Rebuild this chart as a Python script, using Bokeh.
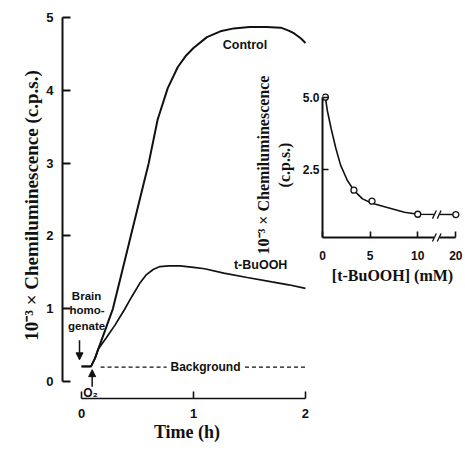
from bokeh.plotting import figure
from bokeh.models import Range1d, FixedTicker, Label, Arrow, NormalHead
from bokeh.layouts import row
from bokeh.embed import file_html
from bokeh.resources import INLINE

# ---------------- data: main panel (time course) ----------------
control_t = [0, 0.085, 0.12, 0.15, 0.20, 0.28, 0.36, 0.44, 0.52, 0.60, 0.68, 0.77,
             0.86, 0.93, 1.0, 1.12, 1.24, 1.36, 1.5, 1.65, 1.78, 1.85, 1.9, 1.96, 2.0]
control_y = [0.21, 0.21, 0.32, 0.45, 0.66, 1.0, 1.5, 2.0, 2.5, 3.0, 3.6, 4.03,
             4.32, 4.47, 4.58, 4.73, 4.81, 4.85, 4.87, 4.87, 4.86, 4.82, 4.78, 4.71, 4.65]
tbu_t = [0, 0.085, 0.12, 0.15, 0.22, 0.30, 0.38, 0.45, 0.52, 0.58, 0.64, 0.70,
         0.78, 0.88, 1.0, 1.1, 1.27, 1.48, 1.7, 1.85, 2.0]
tbu_y = [0.21, 0.21, 0.32, 0.45, 0.60, 0.78, 0.98, 1.17, 1.35, 1.47, 1.54, 1.58,
         1.59, 1.59, 1.57, 1.55, 1.49, 1.43, 1.37, 1.33, 1.28]
background_level = 0.20
background_span = (0.17, 2.0)
main_x_ticks = [0, 1, 2]
main_y_ticks = [0, 1, 2, 3, 4, 5]

# ---------------- data: inset (dose response) ----------------
inset_conc = [0.3, 3.3, 5.2, 10, 20]
inset_chem = [5.0, 1.8, 1.42, 0.97, 0.96]
fit_conc = [0.3, 0.5, 0.9, 1.4, 1.9, 2.6, 3.3, 4.2, 5.2, 6.8, 8.6, 10.0, 20.0]
fit_chem = [5.0, 4.55, 3.93, 3.24, 2.66, 2.14, 1.79, 1.5, 1.35, 1.2, 1.04, 0.97, 0.96]
inset_x_ticks = [0, 5, 10, 20]
inset_y_ticks = [2.5, 5.0]
BREAK_FROM = 10      # axis is broken between 10 and 20 mM
BREAK_SCALE = 0.4    # compression of the axis after the break
BREAK_AT = 12        # where the // marks are drawn (axis position)


def pos(c):
    return c if c <= BREAK_FROM else BREAK_FROM + (c - BREAK_FROM) * BREAK_SCALE


SANS = "Liberation Sans"
SERIF = "Liberation Serif"
INK = "#111111"

# ---------------- main figure ----------------
p = figure(width=465, height=472,
           x_range=Range1d(-0.17, 2.054), y_range=Range1d(-0.231, 5.068),
           output_backend="svg", toolbar_location=None,
           min_border_left=62, min_border_right=154, min_border_top=0, min_border_bottom=48,
           margin=(-20, 0, -2, 0))
p.title = None
p.grid.visible = False
p.outline_line_color = None
p.background_fill_color = "white"
p.border_fill_color = "white"

xa = p.xaxis[0]
xa.bounds = (0, 2)
xa.ticker = FixedTicker(ticks=main_x_ticks)
xa.major_tick_in = 7
xa.major_tick_out = 0
xa.minor_tick_line_color = None
xa.axis_line_width = 1.6
xa.major_tick_line_width = 1.6
xa.axis_line_color = INK
xa.major_tick_line_color = INK
xa.major_label_text_font = SANS
xa.major_label_text_font_style = "bold"
xa.major_label_text_font_size = "13px"
xa.major_label_text_color = INK
xa.major_label_standoff = 10
xa.axis_label = "Time (h)"
xa.axis_label_text_font = SERIF
xa.axis_label_text_font_style = "bold"
xa.axis_label_text_font_size = "18px"
xa.axis_label_text_color = INK
xa.axis_label_standoff = 1

ya = p.yaxis[0]
ya.bounds = (0, 5)
ya.ticker = FixedTicker(ticks=main_y_ticks)
ya.major_tick_in = 8
ya.major_tick_out = 0
ya.minor_tick_line_color = None
ya.axis_line_width = 2
ya.major_tick_line_width = 2
ya.axis_line_color = INK
ya.major_tick_line_color = INK
ya.major_label_text_font = SANS
ya.major_label_text_font_style = "bold"
ya.major_label_text_font_size = "13px"
ya.major_label_text_color = INK
ya.major_label_standoff = 9
ya.axis_label = "10\u207b\u00b3 \u00d7 Chemiluminescence (c.p.s.)"
ya.axis_label_text_font = SERIF
ya.axis_label_text_font_style = "bold"
ya.axis_label_text_font_size = "19px"
ya.axis_label_text_color = INK
ya.axis_label_standoff = 1

p.line(control_t, control_y, line_color=INK, line_width=2)
p.line(tbu_t, tbu_y, line_color=INK, line_width=1.7)

# background dashed line, interrupted by its label
bg_gap = (0.76, 1.46)
p.line([background_span[0], bg_gap[0]], [background_level, background_level],
       line_color=INK, line_width=1.3, line_dash="4 3")
p.line([bg_gap[1], background_span[1]], [background_level, background_level],
       line_color=INK, line_width=1.3, line_dash="4 3")


def lab(fig, x, y, text, size="12px", font=SANS, style="bold", **kw):
    fig.add_layout(Label(x=x, y=y, text=text, text_font=font, text_font_style=style,
                         text_font_size=size, text_color=INK, text_align="center",
                         text_baseline="middle", **kw))


lab(p, 1.107, background_level, "Background")
lab(p, 1.46, 4.62, "Control", size="12.5px")
lab(p, 1.60, 1.60, "t-BuOOH", size="12.5px")
lab(p, 0.045, 1.18, "Brain", size="11.5px")
lab(p, 0.05, 0.98, "homo-", size="11.5px")
lab(p, 0.045, 0.77, "genate", size="11.5px")
lab(p, 0.08, -0.15, "O\u2082", size="12px")

p.add_layout(Arrow(end=NormalHead(size=7, fill_color=INK, line_color=INK),
                   x_start=-0.018, y_start=0.57, x_end=-0.018, y_end=0.30,
                   line_color=INK, line_width=1.5))
p.add_layout(Arrow(end=NormalHead(size=7, fill_color=INK, line_color=INK),
                   x_start=0.095, y_start=-0.07, x_end=0.095, y_end=0.165,
                   line_color=INK, line_width=1.5))

# ---------------- inset figure ----------------
q = figure(width=215, height=231,
           x_range=Range1d(0, 14.7), y_range=Range1d(0.17, 5.16),
           output_backend="svg", toolbar_location=None,
           min_border_left=72, min_border_right=3, min_border_top=32, min_border_bottom=54,
           margin=(60, 0, 0, -215))
q.title = None
q.grid.visible = False
q.outline_line_color = None
q.background_fill_alpha = 0
q.border_fill_alpha = 0

qx = q.xaxis[0]
qx.bounds = (0, pos(20))
qx.ticker = FixedTicker(ticks=[pos(v) for v in inset_x_ticks])
qx.major_label_overrides = {pos(v): str(v) for v in inset_x_ticks}
qx.major_tick_in = 6
qx.major_tick_out = 0
qx.minor_tick_line_color = None
qx.axis_line_width = 1.8
qx.major_tick_line_width = 1.6
qx.axis_line_color = INK
qx.major_tick_line_color = INK
qx.major_label_text_font = SANS
qx.major_label_text_font_style = "bold"
qx.major_label_text_font_size = "12px"
qx.major_label_text_color = INK
qx.major_label_standoff = 13
qx.axis_label = "[t-BuOOH] (mM)"
qx.axis_label_text_font = SERIF
qx.axis_label_text_font_style = "bold"
qx.axis_label_text_font_size = "16px"
qx.axis_label_text_color = INK
qx.axis_label_standoff = 4

qy = q.yaxis[0]
qy.bounds = (0.17, 5.0)
qy.ticker = FixedTicker(ticks=inset_y_ticks)
qy.major_label_overrides = {2.5: "2.5", 5.0: "5.0"}
qy.major_tick_in = 6
qy.major_tick_out = 0
qy.minor_tick_line_color = None
qy.axis_line_width = 2
qy.major_tick_line_width = 1.6
qy.axis_line_color = INK
qy.major_tick_line_color = INK
qy.major_label_text_font = SANS
qy.major_label_text_font_style = "bold"
qy.major_label_text_font_size = "12px"
qy.major_label_text_color = INK
qy.major_label_standoff = 3
qy.axis_label = "10\u207b\u00b3 \u00d7 Chemiluminescence\n(c.p.s.)"
qy.axis_label_text_font = SERIF
qy.axis_label_text_font_style = "bold"
qy.axis_label_text_font_size = "16px"
qy.axis_label_text_color = INK
qy.axis_label_standoff = 7

q.line([pos(c) for c in fit_conc], fit_chem, line_color=INK, line_width=1.6)
q.scatter([pos(c) for c in inset_conc], inset_chem, marker="circle", size=6,
          fill_color="white", line_color=INK, line_width=1.3)

# axis / curve break marks "//"
tail_level = inset_chem[-1]
for yb, dy in ((q.y_range.start, 0.14), (tail_level, 0.14)):
    gap = q.segment(x0=[BREAK_AT - 0.3], y0=[yb], x1=[BREAK_AT + 0.3], y1=[yb],
                    line_color="white", line_width=4)
    gap.level = "overlay"
    marks = q.segment(x0=[BREAK_AT - 0.45, BREAK_AT + 0.05], y0=[yb - dy, yb - dy],
                      x1=[BREAK_AT - 0.05, BREAK_AT + 0.45], y1=[yb + dy, yb + dy],
                      line_color=INK, line_width=1.3)
    marks.level = "overlay"

layout = row(p, q)
open("out.html", "w").write(file_html(layout, INLINE))
